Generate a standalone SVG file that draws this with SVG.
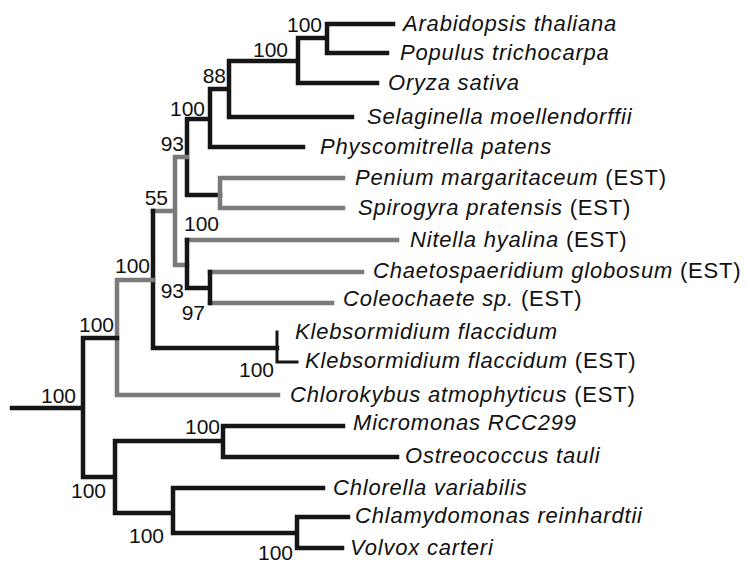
<svg xmlns="http://www.w3.org/2000/svg" width="746" height="563" viewBox="0 0 746 563">
<style>
.b{fill:none;stroke:#151515;stroke-width:4.5;stroke-linecap:square}
.g{fill:none;stroke:#7a7a7a;stroke-width:4.5;stroke-linecap:square}
.leaf{font-family:"Liberation Sans",Arial,sans-serif;font-size:22px;font-style:italic;fill:#111;letter-spacing:0.8px}
.est{font-style:normal}
.sup{font-family:"Liberation Sans",Arial,sans-serif;font-size:21px;fill:#111;text-anchor:end}
</style>
<rect width="746" height="563" fill="#fff"/>
<g id="connectors">
<path class="b" d="M327,24H393M327,53H387M327,24V53M298,38H327M298,38V83M298,83H377M229,61H298M229,61V117M229,117H352M210,89H229M210,89V147M210,147H303M187,119H210M187,119V195M187,195H220"/>
<path class="g" d="M220,178V208M220,178H343M220,208H343"/>
<path class="g" d="M175,157H187M175,157V265M175,265H187M187,240H397M210,272H362M210,303H332M153,211H175"/>
<path class="b" d="M187,240V288M187,288H210M210,272V303"/>
<path class="b" d="M153,211V348M153,348H277"/>
<path class="b" style="stroke-width:3" d="M277,332V362M277,362H297"/>
<path class="g" d="M117,280H153M117,280V395M117,395H278"/>
<path class="b" d="M83,338H117M83,338V477M12,408H83M83,477H115M115,441V513M115,441H223M223,426V457M223,426H343M223,457H397M115,513H173M173,488V533M173,488H323M173,533H297M297,517V548M297,517H348M297,548H342"/>
</g>
<g id="n-arabidopsis"><text class="leaf" x="403" y="31">Arabidopsis thaliana</text></g>
<g id="n-populus"><text class="leaf" x="400" y="60">Populus trichocarpa</text></g>
<g id="n-oryza"><text class="leaf" x="388" y="90">Oryza sativa</text></g>
<g id="n-selaginella"><text class="leaf" x="367" y="124">Selaginella moellendorffii</text></g>
<g id="n-physcomitrella"><text class="leaf" x="320" y="154">Physcomitrella patens</text></g>
<g id="n-penium"><text class="leaf" x="355" y="185">Penium margaritaceum <tspan class="est">(EST)</tspan></text></g>
<g id="n-spirogyra"><text class="leaf" x="358" y="215">Spirogyra pratensis <tspan class="est">(EST)</tspan></text></g>
<g id="n-nitella"><text class="leaf" x="410" y="247">Nitella hyalina <tspan class="est">(EST)</tspan></text></g>
<g id="n-chaetospaeridium"><text class="leaf" x="373" y="278">Chaetospaeridium globosum <tspan class="est">(EST)</tspan></text></g>
<g id="n-coleochaete"><text class="leaf" x="343" y="306">Coleochaete sp. <tspan class="est">(EST)</tspan></text></g>
<g id="n-klebsormidium"><text class="leaf" x="295" y="339">Klebsormidium flaccidum</text></g>
<g id="n-klebsormidium-est"><text class="leaf" x="305" y="368">Klebsormidium flaccidum <tspan class="est">(EST)</tspan></text></g>
<g id="n-chlorokybus"><text class="leaf" x="290" y="402">Chlorokybus atmophyticus <tspan class="est">(EST)</tspan></text></g>
<g id="n-micromonas"><text class="leaf" x="353" y="430">Micromonas RCC299</text></g>
<g id="n-ostreococcus"><text class="leaf" x="405" y="463">Ostreococcus tauli</text></g>
<g id="n-chlorella"><text class="leaf" x="333" y="495">Chlorella variabilis</text></g>
<g id="n-chlamydomonas"><text class="leaf" x="355" y="523">Chlamydomonas reinhardtii</text></g>
<g id="n-volvox"><text class="leaf" x="350" y="555">Volvox carteri</text></g>
<g id="supports">
<text class="sup" x="322" y="32">100</text>
<text class="sup" x="288" y="57">100</text>
<text class="sup" x="226" y="83">88</text>
<text class="sup" x="205" y="116">100</text>
<text class="sup" x="184" y="151">93</text>
<text class="sup" x="168" y="205">55</text>
<text class="sup" x="219" y="231">100</text>
<text class="sup" x="150" y="273">100</text>
<text class="sup" x="184" y="298">93</text>
<text class="sup" x="205" y="320">97</text>
<text class="sup" x="274" y="377">100</text>
<text class="sup" x="114" y="332">100</text>
<text class="sup" x="76" y="403">100</text>
<text class="sup" x="220" y="434">100</text>
<text class="sup" x="106" y="498">100</text>
<text class="sup" x="164" y="543">100</text>
<text class="sup" x="293" y="560">100</text>
</g>
</svg>
